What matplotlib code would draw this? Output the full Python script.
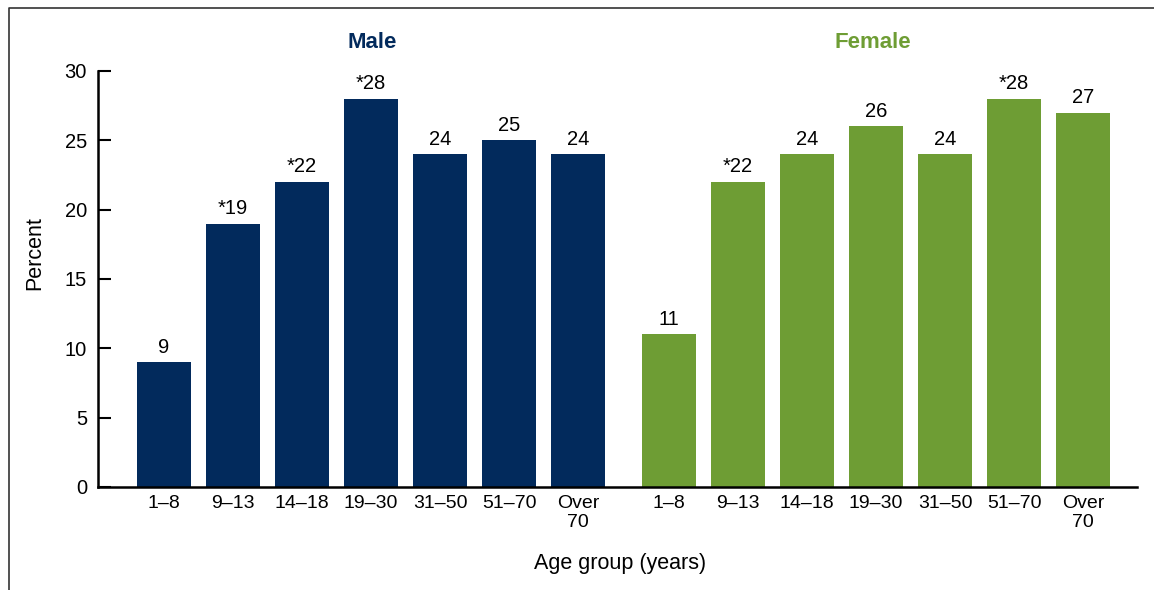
import matplotlib
matplotlib.use("Agg")
import matplotlib.pyplot as plt
from matplotlib.lines import Line2D
import numpy as np

plt.rcParams['font.family'] = ['Liberation Sans', 'DejaVu Sans']

categories = ["1\u20138", "9\u201313", "14\u201318", "19\u201330", "31\u201350", "51\u201370", "Over\n70"]
male_values = [9, 19, 22, 28, 24, 25, 24]
male_labels = ["9", "*19", "*22", "*28", "24", "25", "24"]
female_values = [11, 22, 24, 26, 24, 28, 27]
female_labels = ["11", "*22", "24", "26", "24", "*28", "27"]

navy = "#022A5C"
green = "#6E9D34"

W, H = 1154, 590
fig = plt.figure(figsize=(W / 100, H / 100), dpi=100)
ax = fig.add_axes([98 / W, 1 - 487 / H, (1137 - 98) / W, (487 - 71) / H])

n = len(categories)
male_x = np.arange(n)
female_x = np.arange(n) + n + 0.32
width = 0.78

ax.bar(male_x, male_values, width=width, color=navy)
ax.bar(female_x, female_values, width=width, color=green)

for x, v, lab in zip(male_x, male_values, male_labels):
    ax.annotate(lab, (x, v), xytext=(0, 4), textcoords="offset points",
                ha="center", va="bottom", fontsize=14.5)
for x, v, lab in zip(female_x, female_values, female_labels):
    ax.annotate(lab, (x, v), xytext=(0, 4), textcoords="offset points",
                ha="center", va="bottom", fontsize=14.5)

ax.set_xlim(-0.957, female_x[-1] + 0.78)
ax.set_ylim(0, 30)
ax.set_yticks([0, 5, 10, 15, 20, 25, 30])
ax.set_xticks(list(male_x) + list(female_x))
ax.set_xticklabels(categories + categories, fontsize=14, linespacing=1.12)
ax.tick_params(axis='x', length=0, pad=6)
ax.tick_params(axis='y', direction='in', length=9, width=1.5, labelsize=14.5, pad=8)

for s in ['top', 'right']:
    ax.spines[s].set_visible(False)
for s in ['left', 'bottom']:
    ax.spines[s].set_linewidth(1.8)

fig.text(35 / W, 1 - 253 / H, "Percent", ha="center", va="center", rotation=90, fontsize=15.5)
fig.text(620 / W, 1 - 563 / H, "Age group (years)", ha="center", va="center", fontsize=15.5)

fig.text(372 / W, 1 - 42 / H, "Male", ha="center", va="center", fontsize=16,
         fontweight="bold", color=navy)
fig.text(873 / W, 1 - 42 / H, "Female", ha="center", va="center", fontsize=16,
         fontweight="bold", color=green)

# outer frame (left and top)
fx = 8.5 / W
fy = 1 - 7.5 / H
fig.add_artist(Line2D([fx, fx, 1], [0, fy, fy], transform=fig.transFigure,
                      color="#333333", linewidth=1.2))

fig.savefig("out.png", dpi=100)
